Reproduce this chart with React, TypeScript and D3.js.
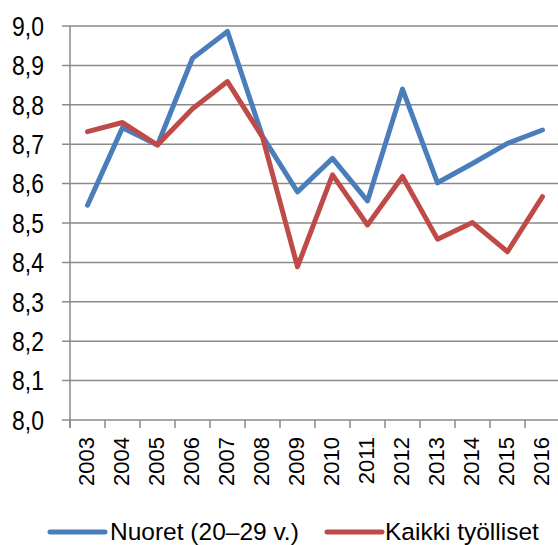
import React, { useEffect } from 'react';
import * as d3 from 'd3';

const years = ['2003', '2004', '2005', '2006', '2007', '2008', '2009', '2010', '2011', '2012', '2013', '2014', '2015', '2016'];
const nuoret = [8.545, 8.742, 8.698, 8.918, 8.986, 8.72, 8.579, 8.664, 8.556, 8.84, 8.602, 8.651, 8.702, 8.736];
const kaikki = [8.732, 8.755, 8.698, 8.79, 8.859, 8.718, 8.389, 8.622, 8.495, 8.618, 8.459, 8.501, 8.427, 8.567];
const yTicks = [8.0, 8.1, 8.2, 8.3, 8.4, 8.5, 8.6, 8.7, 8.8, 8.9, 9.0];
const seriesNames = ['Nuoret (20–29 v.)', 'Kaikki työlliset'];

const width = 558;
const height = 545;
const left = 70;
const right = 560;
const top = 26;
const bottom = 420;
const colors = ['#4a7ebb', '#be4b48'];
const gridColor = '#8a8a8a';

function App() {
    useEffect(() => {
        document.body.style.margin = '0';
    }, []);

    const x = d3.scaleBand<string>().domain(years).range([left, right]);
    const y = d3.scaleLinear().domain([8.0, 9.0]).range([bottom, top]);

    const line = d3.line<number>()
        .x((d, i) => (x(years[i]) as number) + x.bandwidth() / 2)
        .y((d) => y(d));

    const fmt = (v: number) => v.toFixed(1).replace('.', ',');
    const bounds = years.map((yr) => x(yr) as number).concat([right]);

    // legend positions
    const legend = [
        { x1: 50, x2: 105, tx: 110 },
        { x1: 327, x2: 382, tx: 385 },
    ];

    return (
        <svg width={width} height={height} style={{ display: 'block' }}>
            <rect width={width} height={height} fill="#fff" />

            {/* grid lines */}
            {yTicks.map((t) => (
                <line key={t} x1={left - 8} x2={width} y1={y(t)} y2={y(t)}
                    stroke={gridColor} strokeWidth={1.5} />
            ))}

            {/* y axis */}
            <line x1={left} x2={left} y1={top} y2={bottom + 8} stroke={gridColor} strokeWidth={1.5} />
            {bounds.map((b, i) => (
                <line key={i} x1={b} x2={b} y1={bottom} y2={bottom + 8} stroke={gridColor} strokeWidth={1.5} />
            ))}

            {/* narrow-looking y labels: squeeze horizontally */}
            {yTicks.map((t) => (
                <text key={t} transform={`translate(44,${y(t)}) scale(0.85,1)`} dy="0.36em" textAnchor="end"
                    fontFamily="'Liberation Sans', sans-serif" fontSize={27} fill="#000">
                    {fmt(t)}
                </text>
            ))}

            {years.map((yr) => {
                const cx = (x(yr) as number) + x.bandwidth() / 2;
                return (
                    <text key={yr} transform={`translate(${cx + 6.5},437) rotate(-90)`} textAnchor="end"
                        fontFamily="'Liberation Sans', sans-serif" fontSize={22} fill="#000">
                        {yr}
                    </text>
                );
            })}

            {[nuoret, kaikki].map((s, i) => (
                <path key={i} d={line(s) as string} fill="none" stroke={colors[i]}
                    strokeWidth={5} strokeLinejoin="round" strokeLinecap="round" />
            ))}

            {legend.map((l, i) => (
                <g key={i}>
                    <line x1={l.x1} x2={l.x2} y1={532} y2={532} stroke={colors[i]} strokeWidth={5} strokeLinecap="round" />
                    <text x={l.tx} y={540} fontFamily="'Liberation Sans', sans-serif" fontSize={24.5} fill="#000">
                        {seriesNames[i]}
                    </text>
                </g>
            ))}
        </svg>
    );
}

export default App;
